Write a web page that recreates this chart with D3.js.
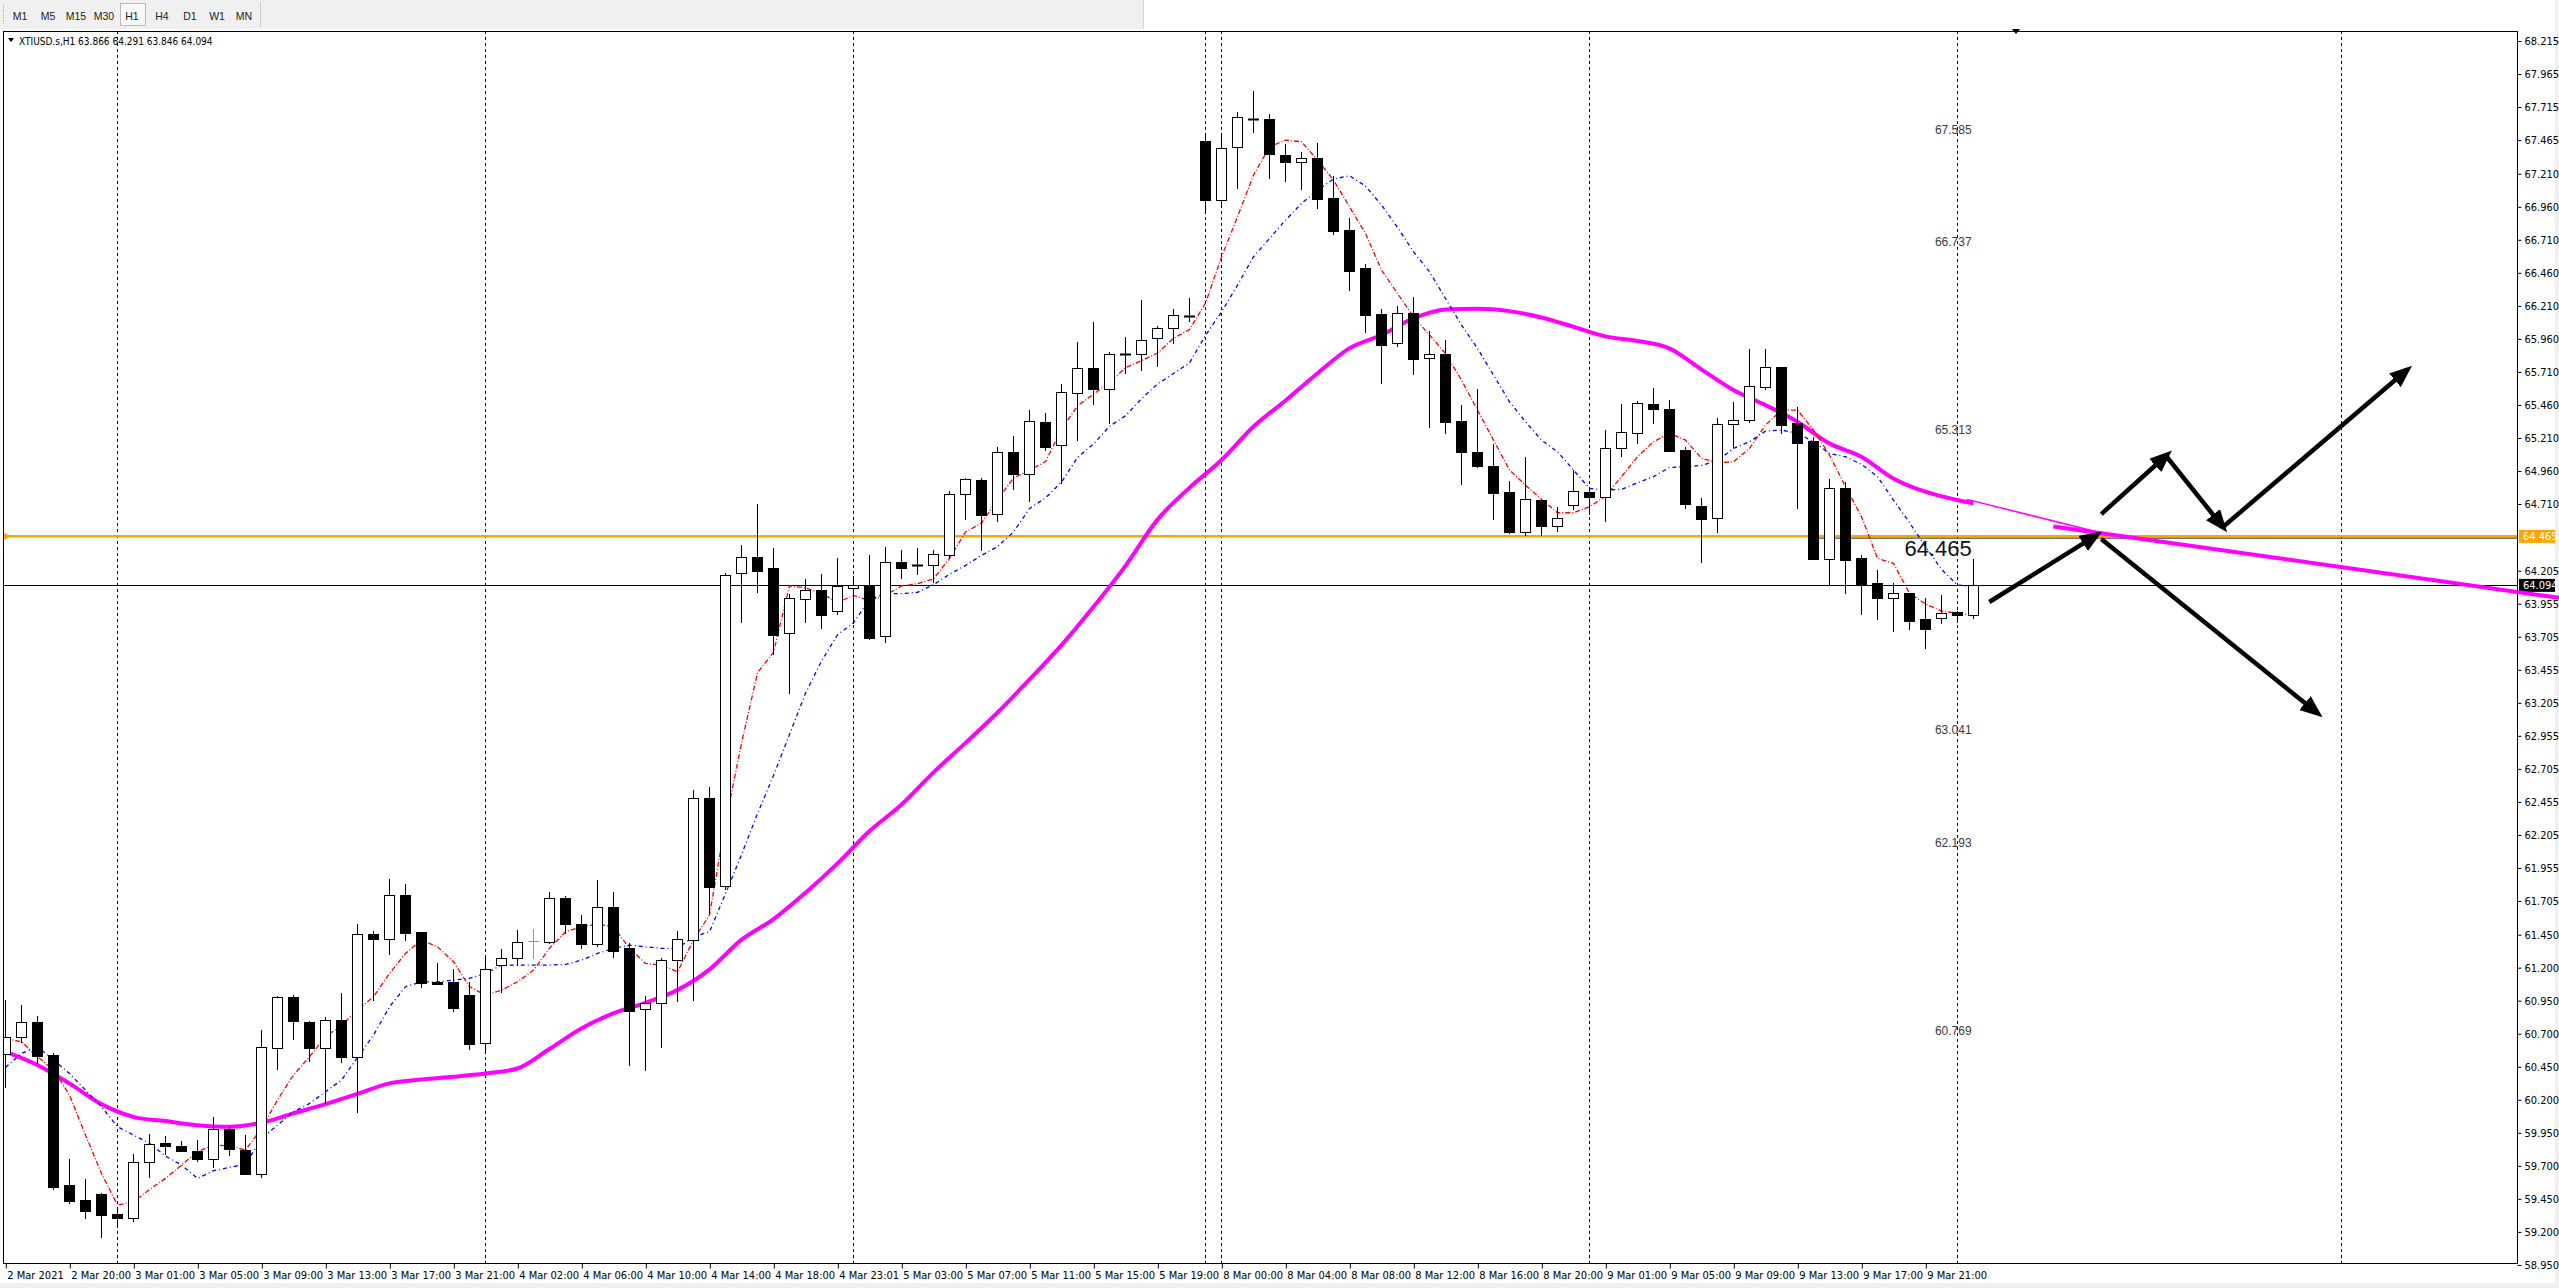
<!DOCTYPE html>
<html><head><meta charset="utf-8">
<script src="https://cdn.jsdelivr.net/npm/d3@7"></script>
<style>html,body{margin:0;padding:0;background:#fff;overflow:hidden}</style>
</head><body>
<svg id="c" width="2559" height="1288"></svg>
<script>
// ---------------- DATA ----------------
const opens=[60.546,60.673,60.786,60.539,59.555,59.441,59.486,59.333,59.302,59.727,59.870,59.850,59.812,59.749,59.978,59.820,59.636,60.589,60.975,60.786,60.589,60.804,60.521,61.455,61.419,61.748,61.467,61.094,61.091,60.993,60.632,61.218,61.271,61.400,61.396,61.725,61.530,61.381,61.659,61.349,60.885,60.930,61.256,61.412,62.482,61.815,64.187,64.307,64.223,63.730,63.992,64.058,63.903,64.076,64.090,63.708,64.272,64.250,64.245,64.325,64.783,64.894,64.636,65.107,64.938,65.333,65.160,65.547,65.742,65.578,65.845,65.849,65.964,66.040,66.135,67.457,67.008,67.409,67.624,67.624,67.349,67.296,67.326,67.026,66.781,66.493,66.145,65.926,66.153,65.812,65.842,65.335,65.103,64.997,64.800,64.497,64.740,64.545,64.699,64.798,64.760,65.131,65.245,65.467,65.426,65.119,64.695,64.601,65.313,65.343,65.598,65.747,65.321,65.187,64.296,64.828,64.298,64.109,64.001,64.034,63.837,63.844,63.890,63.866];
const highs=[60.955,60.917,60.834,60.556,59.751,59.600,59.496,59.365,59.789,59.940,59.925,59.890,59.895,60.067,59.996,59.934,60.728,60.985,60.995,60.798,60.824,61.006,61.531,61.477,61.871,61.833,61.470,61.237,61.188,61.091,61.283,61.341,61.485,61.490,61.772,61.742,61.598,61.863,61.772,61.384,60.985,61.271,61.477,62.545,62.565,64.187,64.401,64.712,64.374,64.027,64.143,64.178,64.298,64.165,64.321,64.383,64.365,64.374,64.365,64.809,64.905,64.907,65.142,65.222,65.422,65.400,65.618,65.933,66.089,65.858,65.973,66.253,66.058,66.186,66.266,67.519,67.508,67.677,67.833,67.662,67.434,67.374,67.442,67.190,66.874,66.526,66.183,66.208,66.276,66.019,65.951,65.459,65.577,65.163,64.883,65.065,64.745,64.689,64.967,64.825,65.270,65.467,65.487,65.585,65.497,65.139,64.753,65.358,65.482,65.883,65.883,65.750,65.447,65.214,64.897,64.876,64.324,64.210,64.109,64.036,63.996,64.021,63.900,64.291];
const lows=[60.296,60.639,60.476,59.527,59.420,59.303,59.163,59.239,59.285,59.617,59.789,59.815,59.738,59.693,59.784,59.640,59.613,60.435,60.662,60.495,60.173,60.488,60.109,60.955,61.303,61.409,61.056,61.078,60.874,60.586,60.576,61.018,61.220,61.275,61.384,61.460,61.351,61.364,61.283,60.463,60.425,60.601,60.944,60.952,61.616,61.797,63.819,64.045,63.574,63.277,63.814,63.774,63.876,63.810,63.690,63.668,64.152,64.178,64.121,64.298,64.596,64.361,64.578,64.823,64.729,65.116,64.867,65.196,65.467,65.320,65.698,65.724,65.751,65.929,66.093,66.933,66.960,67.104,67.528,67.180,67.157,67.096,66.953,66.756,66.332,66.014,65.628,65.908,65.693,65.295,65.244,64.863,64.987,64.598,64.487,64.475,64.472,64.507,64.674,64.631,64.584,65.076,65.169,65.326,65.114,64.677,64.273,64.500,65.144,65.328,65.578,65.245,64.677,64.296,64.104,64.039,63.877,63.837,63.751,63.764,63.617,63.812,63.819,63.846];
const closes=[60.675,60.786,60.533,59.542,59.436,59.360,59.330,59.307,59.727,59.863,59.852,59.815,59.749,59.978,59.825,59.640,60.597,60.975,60.798,60.589,60.804,60.526,61.452,61.419,61.748,61.464,61.086,61.078,60.897,60.624,61.188,61.271,61.392,61.400,61.725,61.530,61.381,61.659,61.328,60.874,60.930,61.256,61.415,62.482,61.813,64.174,64.312,64.205,63.721,63.996,64.058,63.872,64.090,64.098,63.699,64.272,64.223,64.249,64.334,64.787,64.903,64.627,65.107,64.938,65.342,65.142,65.556,65.742,65.578,65.844,65.843,65.951,66.040,66.138,66.133,67.008,67.408,67.636,67.622,67.361,67.301,67.331,67.016,66.778,66.476,66.143,65.915,66.153,65.809,65.842,65.333,65.105,64.997,64.795,64.497,64.745,64.545,64.601,64.805,64.760,65.131,65.252,65.472,65.426,65.114,64.707,64.599,65.313,65.343,65.601,65.744,65.308,65.174,64.296,64.828,64.288,64.104,64.001,64.034,63.827,63.761,63.887,63.867,64.094];
const maFast=[60.664,60.639,60.526,60.425,60.235,59.933,59.642,59.403,59.428,59.521,59.605,59.706,59.807,59.857,59.852,59.819,59.983,60.198,60.387,60.526,60.677,60.765,60.879,60.980,61.156,61.308,61.409,61.358,61.245,61.056,60.992,61.030,61.093,61.182,61.346,61.472,61.510,61.530,61.510,61.346,61.232,61.220,61.169,61.409,61.600,62.299,62.899,63.432,63.588,64.090,64.076,64.032,63.965,64.018,63.979,64.018,64.090,64.107,64.143,64.298,64.498,64.565,64.743,64.907,64.965,65.031,65.276,65.453,65.542,65.631,65.742,65.795,65.853,65.964,66.031,66.231,66.580,66.884,67.200,67.414,67.465,67.452,67.313,67.162,66.960,66.758,66.481,66.304,66.127,65.989,65.850,65.648,65.421,65.194,64.967,64.853,64.745,64.644,64.644,64.689,64.770,64.917,65.068,65.182,65.245,65.194,65.056,65.023,65.030,65.131,65.308,65.421,65.421,65.270,65.081,64.841,64.614,64.299,64.261,64.034,63.953,63.900,63.882,63.867];
const maMid=[60.445,60.551,60.601,60.501,60.399,60.273,60.147,59.996,59.933,59.870,59.774,59.706,59.605,59.663,59.688,59.713,59.907,60.008,60.109,60.172,60.261,60.349,60.520,60.690,60.904,61.056,61.093,61.093,61.106,61.119,61.156,61.220,61.220,61.220,61.220,61.225,61.257,61.308,61.346,61.371,61.358,61.346,61.346,61.434,61.472,61.760,62.055,62.366,62.655,62.966,63.277,63.521,63.721,63.810,63.988,64.032,64.032,64.041,64.099,64.178,64.245,64.321,64.387,64.498,64.676,64.756,64.876,65.062,65.165,65.298,65.378,65.507,65.618,65.698,65.778,65.987,66.163,66.367,66.582,66.720,66.859,66.985,67.086,67.170,67.195,67.117,66.973,66.804,66.620,66.468,66.266,66.064,65.888,65.686,65.484,65.333,65.194,65.105,64.967,64.828,64.816,64.821,64.871,64.917,64.987,64.992,65.002,65.038,65.131,65.182,65.262,65.270,65.245,65.182,65.093,65.068,65.010,64.917,64.740,64.569,64.387,64.215,64.097,64.084];
const maSlowBars=[0,2,4,6,8,10,12,14,16,18,20,22,24,26,28,30,32,34,36,38,40,42,44,46,48,50,52,54,56,58,60,62,64,66,68,70,72,74,76,78,80,82,84,86,88,90,92,94,96,98,100,102,104,106,108,110,112,114,116,118,120,122,123];
const maSlowVals=[60.564,60.463,60.324,60.167,60.071,60.039,60.008,59.996,60.026,60.097,60.167,60.245,60.324,60.354,60.374,60.399,60.437,60.584,60.740,60.854,60.934,61.030,61.185,61.411,61.566,61.766,61.988,62.233,62.433,62.677,62.900,63.130,63.380,63.640,63.930,64.240,64.590,64.832,65.041,65.295,65.492,65.698,65.888,65.989,66.115,66.183,66.188,66.170,66.122,66.052,65.979,65.944,65.888,65.729,65.573,65.459,65.333,65.169,65.068,64.904,64.803,64.740,64.715];
const timeLabels=["2 Mar 2021","2 Mar 20:00","3 Mar 01:00","3 Mar 05:00","3 Mar 09:00","3 Mar 13:00","3 Mar 17:00","3 Mar 21:00","4 Mar 02:00","4 Mar 06:00","4 Mar 10:00","4 Mar 14:00","4 Mar 18:00","4 Mar 23:01","5 Mar 03:00","5 Mar 07:00","5 Mar 11:00","5 Mar 15:00","5 Mar 19:00","8 Mar 00:00","8 Mar 04:00","8 Mar 08:00","8 Mar 12:00","8 Mar 16:00","8 Mar 20:00","9 Mar 01:00","9 Mar 05:00","9 Mar 09:00","9 Mar 13:00","9 Mar 17:00","9 Mar 21:00"];
const priceTicks=[68.215,67.965,67.715,67.465,67.210,66.960,66.710,66.460,66.210,65.960,65.710,65.460,65.210,64.960,64.710,64.205,63.955,63.705,63.455,63.205,62.955,62.705,62.455,62.205,61.955,61.705,61.450,61.200,60.950,60.700,60.450,60.200,59.950,59.700,59.450,59.200,58.950];
const separatorBars=[7,30,53,75,76,99,122,146];
const levelLabels=[67.585,66.737,65.313,63.041,62.193,60.769];
const levelLabelBar=120.6;
const hLevel=64.465, bidPrice=64.094;
const bigLabelBar=118.7;
const timeframes=["M1","M5","M15","M30","H1","H4","D1","W1","MN"];
const title="XTIUSD.s,H1  63.866 64.291 63.846 64.094";
// arrows: [bar0, price0, bar1, price1]
const arrows=[[124.0,63.968,130.7,64.475],[131.0,64.634,135.1,65.081],[135.1,65.066,138.6,64.536],[138.6,64.536,150.1,65.724],[131.0,64.445,144.5,63.128]];
// magenta trend lines: [bar0, price0, bar1, price1, width]
const trendLines=[[122.6,64.745,131.2,64.485,1.5],[128,64.54,159.6,64.00,4]];

// ---------------- LAYOUT ----------------
const W=2559,H=1288;
const L=3, R=2517, T=31, B=1263;
const svg=d3.select("#c");
const x=d3.scaleLinear().domain([0,1]).range([5.3,21.3]);
const y=d3.scaleLinear().domain([58.95,68.215]).range([1264.9,41.0]);
const FN="'Liberation Sans Narrow','DejaVu Sans Condensed','Arial Narrow',sans-serif";
const cx=i=>Math.round(x(i));
const px=v=>Math.round(v)+0.5;

// window chrome
svg.append("rect").attr("x",0).attr("y",0).attr("width",W).attr("height",H).attr("fill","#fff");
svg.append("rect").attr("x",0).attr("y",0).attr("width",1143).attr("height",29).attr("fill","#f0f0f0");
svg.append("line").attr("x1",1143.5).attr("x2",1143.5).attr("y1",0).attr("y2",29).attr("stroke","#d8d8d8");
svg.append("rect").attr("x",0).attr("y",H-5).attr("width",W).attr("height",5).attr("fill","#f0f0f0");
svg.append("rect").attr("x",W-4).attr("y",0).attr("width",4).attr("height",H).attr("fill","#f0f0f0");
for(let k=0;k<8;k++) svg.append("rect").attr("x",3).attr("y",5+k*2.5).attr("width",1).attr("height",1).attr("fill","#999");
const tbx=[20,48,76,104,132,162,190,217,244];
svg.append("rect").attr("x",120.5).attr("y",3.5).attr("width",25).attr("height",22).attr("fill","#f8f8f8").attr("stroke","#bbb");
svg.append("line").attr("x1",260.5).attr("x2",260.5).attr("y1",2).attr("y2",27).attr("stroke","#ccc");
svg.selectAll("text.tf").data(timeframes).enter().append("text").attr("class","tf")
 .attr("x",(d,i)=>tbx[i]).attr("y",20).attr("text-anchor","middle")
 .attr("font-family","'Liberation Sans',Arial,sans-serif").attr("font-size",10.5).attr("fill","#222").text(d=>d);

// clip
svg.append("clipPath").attr("id","clip").append("rect").attr("x",L).attr("y",T).attr("width",R-L).attr("height",B-T);
const g=svg.append("g").attr("clip-path","url(#clip)");

// separators
g.selectAll("line.sep").data(separatorBars).enter().append("line")
 .attr("x1",d=>cx(d)+0.5).attr("x2",d=>cx(d)+0.5).attr("y1",T).attr("y2",B)
 .attr("stroke","#000").attr("stroke-width",1).attr("stroke-dasharray","3,3");

// horizontal level & bid line
g.append("line").attr("x1",L).attr("x2",R).attr("y1",y(hLevel)).attr("y2",y(hLevel)).attr("stroke","#ffa500").attr("stroke-width",2.5);
g.append("line").attr("x1",cx(113)).attr("x2",R).attr("y1",y(hLevel)+1.8).attr("y2",y(hLevel)+1.8).attr("stroke","#000").attr("stroke-width",0.8);
g.append("line").attr("x1",L).attr("x2",R).attr("y1",px(y(bidPrice))).attr("y2",px(y(bidPrice))).attr("stroke","#000").attr("stroke-width",1);
g.append("circle").attr("cx",5).attr("cy",y(hLevel)).attr("r",3).attr("fill","#ffa500");

// moving averages
const slow=d3.line().x((d,i)=>x(maSlowBars[i])).y(d=>y(d)).curve(d3.curveMonotoneX);
g.append("path").attr("d",slow(maSlowVals)).attr("fill","none").attr("stroke","#ff00ff").attr("stroke-width",4);
const lineIdx=d3.line().x((d,i)=>cx(i)+0.5).y(d=>y(d));
g.append("path").attr("d",lineIdx(maFast)).attr("fill","none").attr("stroke","#ff0000").attr("stroke-width",1.3).attr("stroke-dasharray","5,2,1,2");
g.append("path").attr("d",lineIdx(maMid)).attr("fill","none").attr("stroke","#0000ff").attr("stroke-width",1.3).attr("stroke-dasharray","4,3,1,3");

// candles
const cg=g.append("g");
opens.forEach((o,i)=>{
  const c=closes[i], h=highs[i], l=lows[i];
  const xc=cx(i);
  const doji=(o===c);
  const col=doji?"#00ff00":"#000";
  cg.append("line").attr("x1",xc+0.5).attr("x2",xc+0.5).attr("y1",Math.round(y(h))).attr("y2",Math.round(y(l))+1).attr("stroke",col).attr("stroke-width",1);
  const top=Math.round(y(Math.max(o,c))), bot=Math.round(y(Math.min(o,c)));
  if(bot-top<1){
    cg.append("line").attr("x1",xc-5).attr("x2",xc+6).attr("y1",top+0.5).attr("y2",top+0.5).attr("stroke",col).attr("stroke-width",doji?1:2);
  } else {
    cg.append("rect").attr("x",xc-4.5).attr("y",top+0.5).attr("width",10).attr("height",bot-top)
      .attr("fill",c>o?"#fff":"#000").attr("stroke","#000").attr("stroke-width",1);
  }
});

// frame
svg.append("rect").attr("x",L+0.5).attr("y",T+0.5).attr("width",R-L).attr("height",B-T).attr("fill","none").attr("stroke","#000").attr("stroke-width",1);

// right axis
const ya=d3.axisRight(y).tickValues(priceTicks).tickFormat(d3.format(".3f")).tickSize(4).tickPadding(3);
const yg=svg.append("g").attr("transform",`translate(${R+0.5},0)`).call(ya);
yg.select(".domain").remove();
yg.selectAll("line").attr("stroke","#000");
yg.selectAll("text").attr("font-family",FN).attr("font-size",11).attr("fill","#000");

// bottom axis
const labelBars=timeLabels.map((d,k)=>4*k);
const xa=d3.axisBottom(x).tickValues(labelBars).tickFormat((d,k)=>timeLabels[k]).tickSize(5).tickPadding(3);
const xg=svg.append("g").attr("transform",`translate(0.5,${B+0.5})`).call(xa);
xg.select(".domain").remove();
xg.selectAll("line").attr("stroke","#000");
xg.selectAll("text").attr("text-anchor","start").attr("dx",1).attr("font-family",FN).attr("font-size",11).attr("fill","#000");

// price boxes
function box(p,bg,fg){
  const yy=y(p);
  svg.append("rect").attr("x",R+2).attr("y",yy-6.5).attr("width",36).attr("height",13).attr("fill",bg);
  svg.append("text").attr("x",R+6).attr("y",yy+4).attr("font-family",FN).attr("font-size",11).attr("fill",fg).text(p.toFixed(3));
}
box(hLevel,"#ffa500","#fff");
box(bidPrice,"#000","#fff");

// magenta trend lines (over the axis area up to window edge)
svg.selectAll("line.tl").data(trendLines).enter().append("line")
 .attr("x1",d=>x(d[0])).attr("y1",d=>y(d[1])).attr("x2",d=>x(d[2])).attr("y2",d=>y(d[3]))
 .attr("stroke","#ff00ff").attr("stroke-width",d=>d[4]);

// level labels
svg.selectAll("text.lv").data(levelLabels).enter().append("text").attr("class","lv")
 .attr("x",x(levelLabelBar)).attr("y",d=>y(d)+10).attr("font-family","'Liberation Sans',Arial,sans-serif").attr("font-size",12).attr("fill","#3a3a48").text(d=>d.toFixed(3));
svg.append("text").attr("x",x(bigLabelBar)).attr("y",y(hLevel)+20).attr("font-family","'Liberation Sans',Arial,sans-serif").attr("font-size",22).attr("fill","#111").text(hLevel.toFixed(3));

// arrows
const defs=svg.append("defs");
defs.append("marker").attr("id","ah").attr("viewBox","0 0 10 10").attr("refX",7).attr("refY",5)
 .attr("markerWidth",5).attr("markerHeight",4).attr("orient","auto").attr("preserveAspectRatio","none")
 .append("path").attr("d","M0,0 L10,5 L0,10 Z").attr("fill","#000");
svg.selectAll("line.ar").data(arrows).enter().append("line")
 .attr("x1",d=>x(d[0])).attr("y1",d=>y(d[1])).attr("x2",d=>x(d[2])).attr("y2",d=>y(d[3]))
 .attr("stroke","#000").attr("stroke-width",4.5).attr("marker-end","url(#ah)");

// title
svg.append("path").attr("d","M8,38 L14,38 L11,42 Z").attr("fill","#000");
svg.append("text").attr("x",19).attr("y",45).attr("font-family",FN).attr("font-size",10).attr("fill","#000").text(title);
// chart shift marker
svg.append("path").attr("d","M2012,29 L2020,29 L2016,34 Z").attr("fill","#000");
</script>
</body></html>
